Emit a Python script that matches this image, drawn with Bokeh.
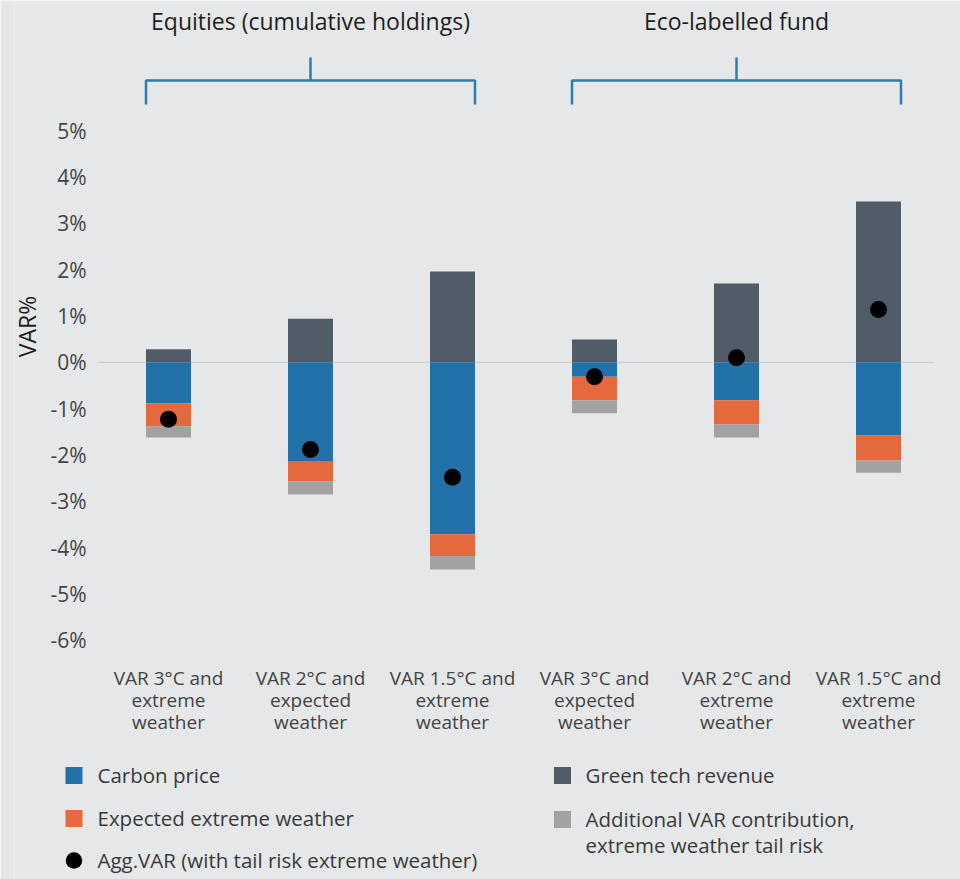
import numpy as np
from bokeh.plotting import figure
from bokeh.models import Range1d, FixedTicker, PrintfTickFormatter, ColumnDataSource
from bokeh.core.properties import value
from bokeh.embed import file_html
from bokeh.resources import INLINE

# ---------------- data ----------------
categories = [
    "VAR 3°C and\nextreme\nweather",
    "VAR 2°C and\nexpected\nweather",
    "VAR 1.5°C and\nextreme\nweather",
    "VAR 3°C and\nexpected\nweather",
    "VAR 2°C and\nextreme\nweather",
    "VAR 1.5°C and\nextreme\nweather",
]
groups = ["Equities (cumulative holdings)", "Eco-labelled fund"]
group_members = [[0, 1, 2], [3, 4, 5]]

green_tech = [0.28, 0.94, 1.96, 0.49, 1.70, 3.47]
carbon_price = [-0.89, -2.13, -3.71, -0.31, -0.82, -1.58]
expected_weather = [-0.49, -0.44, -0.47, -0.51, -0.52, -0.54]
tail_risk = [-0.24, -0.28, -0.29, -0.28, -0.28, -0.26]
agg_var = [-1.23, -1.88, -2.48, -0.31, 0.10, 1.14]

y_ticks = [-6, -5, -4, -3, -2, -1, 0, 1, 2, 3, 4, 5]
y_label = "VAR%"

legend_left = ["Carbon price", "Expected extreme weather", "Agg.VAR (with tail risk extreme weather)"]
legend_right = ["Green tech revenue", "Additional VAR contribution,\nextreme weather tail risk"]

# ---------------- style ----------------
BG = "#e6e7e9"
C_CARBON = "#2272a9"
C_EXP = "#e4693d"
C_GREEN = "#525b68"
C_TAIL = "#a2a2a2"
C_BRACKET = "#2f7bb3"
FONT = "Open Sans"
TXT = "#3a3a3a"

W, H = 960, 879

# pixel layout -> data helpers
X0_PX, DX_PX = 168.0, 142.0       # first category centre, spacing
Y0_PX, DY_PX = 361.8, 46.36       # 0% line, px per 1 %
FRAME_L = 14

def xd(px):
    return (px - X0_PX) / DX_PX

def yd(py):
    return (Y0_PX - py) / DY_PX

BAR_W = 45.0 / DX_PX

p = figure(width=W, height=H, output_backend="svg", toolbar_location=None,
           x_range=Range1d(xd(FRAME_L), xd(W)),
           y_range=Range1d(yd(H), yd(0)),
           x_axis_location=None,
           min_border_left=FRAME_L, min_border_right=0,
           min_border_top=0, min_border_bottom=0)
p.background_fill_color = BG
p.border_fill_color = BG
p.outline_line_color = None
p.grid.visible = False

xs = np.arange(len(categories))
gt = np.array(green_tech)
cp = np.array(carbon_price)
ew = np.array(expected_weather)
tr = np.array(tail_risk)

# zero line
p.segment(x0=[xd(97)], y0=[0], x1=[xd(933)], y1=[0], line_color="#c9cbce", line_width=1)

src = ColumnDataSource(dict(
    x=xs,
    gt_top=gt, gt_bot=np.zeros_like(gt),
    cp_top=np.zeros_like(cp), cp_bot=cp,
    ew_top=cp, ew_bot=cp + ew,
    tr_top=cp + ew, tr_bot=cp + ew + tr,
    agg=np.array(agg_var),
    label=categories,
))
p.vbar(x="x", top="gt_top", bottom="gt_bot", width=BAR_W, source=src, fill_color=C_GREEN, line_color=None)
p.vbar(x="x", top="cp_top", bottom="cp_bot", width=BAR_W, source=src, fill_color=C_CARBON, line_color=None)
p.vbar(x="x", top="ew_top", bottom="ew_bot", width=BAR_W, source=src, fill_color=C_EXP, line_color=None)
p.vbar(x="x", top="tr_top", bottom="tr_bot", width=BAR_W, source=src, fill_color=C_TAIL, line_color=None)
p.scatter(x="x", y="agg", source=src, size=17, marker="circle", fill_color="black", line_color=None)

# category labels under the bars
p.text(x="x", y=yd(664), text="label", source=src, text_align="center", text_baseline="top",
       text_font=value(FONT), text_font_size="19px", text_color="#444444", text_line_height=0.85)

# group brackets + titles
y_h = yd(80)
y_end = yd(104)
y_tick = yd(57)
for name, members in zip(groups, group_members):
    left = xs[members[0]] - BAR_W / 2
    right = xs[members[-1]] + BAR_W / 2
    mid = (xs[members[0]] + xs[members[-1]]) / 2
    p.line(x=[left, left, right, right], y=[y_end, y_h, y_h, y_end],
           line_color=C_BRACKET, line_width=2.5)
    p.line(x=[mid, mid], y=[y_h, y_tick], line_color=C_BRACKET, line_width=2.5)
    p.text(x=[mid], y=[yd(20)], text=[name], text_align="center", text_baseline="middle",
           text_font=value(FONT), text_font_size="23px", text_color="#1e1e1e")

# y axis (real axis, labels pulled into place)
p.yaxis.ticker = FixedTicker(ticks=y_ticks)
p.yaxis.formatter = PrintfTickFormatter(format="%d%%")
p.yaxis.axis_line_color = None
p.yaxis.major_tick_line_color = None
p.yaxis.minor_tick_line_color = None
p.yaxis.major_tick_out = 0
p.yaxis.major_tick_in = 0
p.yaxis.major_label_standoff = -(86 - FRAME_L)
p.yaxis.major_label_text_font = FONT
p.yaxis.major_label_text_font_size = "21px"
p.yaxis.major_label_text_color = "#444444"

# axis title
p.text(x=[xd(26)], y=[yd(326)], text=[y_label], angle=np.pi / 2, text_align="center",
       text_baseline="middle", text_font=value(FONT), text_font_size="23px", text_color="#1e1e1e")

# ---------------- legend ----------------
left_rows_y = [775, 818, 860]
left_colors = [C_CARBON, C_EXP, "black"]
for lab, yy, col in zip(legend_left[:2], left_rows_y[:2], left_colors[:2]):
    p.rect(x=[xd(73.5)], y=[yd(yy)], width=17, height=17, width_units="screen",
           height_units="screen", fill_color=col, line_color=None)
p.scatter(x=[xd(73.5)], y=[yd(left_rows_y[2])], marker="circle", size=16.5,
          fill_color=left_colors[2], line_color=None)
p.text(x=[xd(97)] * 3, y=[yd(v - 0.5) for v in left_rows_y], text=legend_left, text_align="left",
       text_baseline="middle", text_font=value(FONT), text_font_size="20.5px", text_color=TXT)

right_rows_y = [775, 819]
right_colors = [C_GREEN, C_TAIL]
for lab, yy, col in zip(legend_right, right_rows_y, right_colors):
    p.rect(x=[xd(562)], y=[yd(yy)], width=17, height=17, width_units="screen",
           height_units="screen", fill_color=col, line_color=None)
    p.text(x=[xd(585)], y=[yd(yy - 14.5)], text=[lab], text_align="left", text_baseline="top",
           text_font=value(FONT), text_font_size="20.5px", text_color=TXT, text_line_height=0.92)

open("out.html", "w").write(file_html(p, INLINE))
